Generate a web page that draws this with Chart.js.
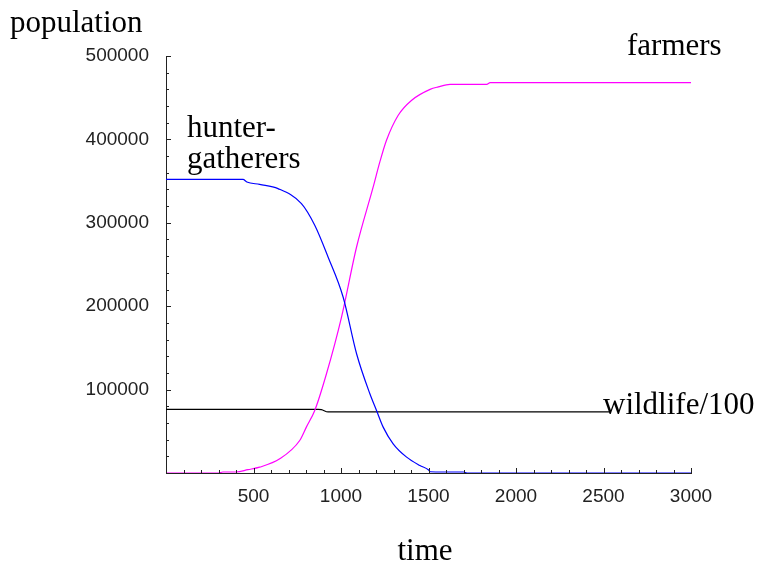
<!DOCTYPE html>
<html>
<head>
<meta charset="utf-8">
<script src="https://cdn.jsdelivr.net/npm/chart.js@4"></script>
<style>
  body { margin: 0; background: #fff; }
  #wrap { width: 763px; height: 566px; }
</style>
</head>
<body>
<div id="wrap"><canvas id="popChart" width="763" height="566"></canvas></div>
<script>
// values
const hunterT = [0, 440, 462, 535, 640, 774, 850, 926, 1012, 1089, 1165, 1203, 1241, 1298, 1375, 1451, 1499, 1510, 1585, 1700, 1720, 3000];
const hunterY = [352000, 352000, 349000, 346000, 341000, 323000, 297000, 259000, 211000, 143000, 95000, 75000, 55000, 35000, 19000, 9000, 4000, 1500, 1200, 1200, 0, 0];

const farmerT = [0, 300, 325, 401, 468, 535, 650, 764, 802, 850, 917, 1003, 1089, 1184, 1222, 1260, 1327, 1404, 1509, 1556, 1623, 1833, 1852, 3000];
const farmerY = [0, 0, 1200, 1200, 4000, 7000, 17000, 39000, 55000, 75000, 119000, 187000, 271000, 343000, 373000, 399000, 429000, 447000, 460000, 463000, 466000, 466000, 468000, 468000];

const wildT = [0, 870, 888, 926, 3000];
const wildY = [76400, 76400, 76000, 73200, 73200];

const xTicks = [500, 1000, 1500, 2000, 2500, 3000];
const yTicks = [100000, 200000, 300000, 400000, 500000];

const toPoints = (ts, ys) => ts.map((t, i) => ({ x: t, y: ys[i] }));

const serif = '31px "Liberation Serif", "Times New Roman", serif';

// inward tick marks + text labels, Mathematica style
const decorations = {
    id: 'decorations',
    afterDraw(chart) {
        const { ctx, scales: { x, y } } = chart;
        ctx.save();
        ctx.strokeStyle = '#222';
        ctx.lineWidth = 1;
        ctx.beginPath();
        for (let v = 0; v <= 500000; v += 20000) {
            const py = Math.round(y.getPixelForValue(v)) + 0.5;
            const len = v % 100000 === 0 ? 5 : 3;
            ctx.moveTo(x.left, py);
            ctx.lineTo(x.left + len, py);
        }
        for (let v = 0; v <= 3000; v += 100) {
            const px = Math.round(x.getPixelForValue(v)) + 0.5;
            const len = v % 500 === 0 ? 5 : 3;
            ctx.moveTo(px, y.bottom);
            ctx.lineTo(px, y.bottom - len);
        }
        ctx.stroke();

        ctx.fillStyle = '#000';
        ctx.font = serif;
        ctx.textBaseline = 'alphabetic';
        ctx.textAlign = 'left';
        ctx.fillText('population', 10, 32);
        ctx.fillText('hunter-', 187, 137);
        ctx.fillText('gatherers', 187, 168);
        ctx.fillText('farmers', 627, 55);

        // label box hides the wildlife line behind most of the text
        const w = ctx.measureText('wildlife/100').width;
        ctx.fillStyle = '#fff';
        ctx.fillRect(611, 390, w - 6, 30);
        ctx.fillStyle = '#000';
        ctx.fillText('wildlife/100', 603, 414);

        ctx.textAlign = 'center';
        ctx.fillText('time', 425, 560);
        ctx.restore();
    }
};

new Chart(document.getElementById('popChart'), {
    type: 'line',
    data: {
        datasets: [
            { label: 'hunter-gatherers', data: toPoints(hunterT, hunterY), borderColor: '#0000ff' },
            { label: 'farmers', data: toPoints(farmerT, farmerY), borderColor: '#ff00ff' },
            { label: 'wildlife/100', data: toPoints(wildT, wildY), borderColor: '#000000' }
        ]
    },
    options: {
        responsive: false,
        animation: false,
        elements: {
            line: { borderWidth: 1.2, cubicInterpolationMode: 'monotone', fill: false },
            point: { radius: 0 }
        },
        layout: { padding: { top: 56, right: 72, left: 0, bottom: 0 } },
        scales: {
            x: {
                type: 'linear',
                min: 0,
                max: 3000,
                afterFit: s => { s.height = 93; },
                afterBuildTicks: s => { s.ticks = xTicks.map(v => ({ value: v })); },
                grid: { display: false, drawTicks: false },
                border: { display: true, color: '#222', width: 1 },
                ticks: {
                    padding: 12,
                    maxRotation: 0,
                    color: '#222',
                    font: { family: '"Liberation Sans", Arial, sans-serif', size: 19 },
                    callback: v => String(v)
                }
            },
            y: {
                type: 'linear',
                min: 0,
                max: 500000,
                afterFit: s => { s.width = 166; },
                afterBuildTicks: s => { s.ticks = yTicks.map(v => ({ value: v })); },
                grid: { display: false, drawTicks: false },
                border: { display: true, color: '#222', width: 1 },
                ticks: {
                    padding: 17,
                    color: '#222',
                    font: { family: '"Liberation Sans", Arial, sans-serif', size: 19 },
                    callback: v => String(v)
                }
            }
        },
        plugins: {
            legend: { display: false },
            tooltip: { enabled: false }
        }
    },
    plugins: [decorations]
});
</script>
</body>
</html>
